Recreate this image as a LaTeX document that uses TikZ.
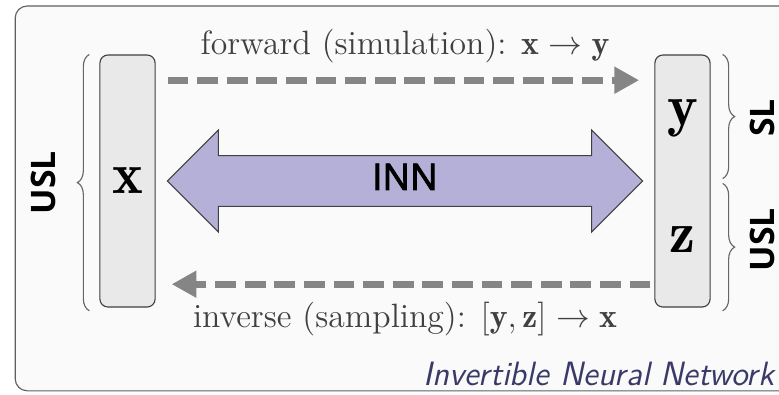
\documentclass[tikz,border=0pt]{standalone}
\usepackage{amsmath}
\usepackage{fontspec}
\usepackage{tikz}
\usetikzlibrary{arrows.meta,calc,positioning,shapes.arrows,decorations.pathreplacing}
\newfontfamily\labelsans{Open Sans}
\newfontfamily\innsans{Open Sans}[FakeBold=2.5]
\definecolor{INNFrame}{HTML}{5F5F5F}
\definecolor{INNBack}{HTML}{FAFAFA}
\definecolor{INNBox}{HTML}{E9E9E9}
\definecolor{INNLilac}{HTML}{B4B0D7}
\definecolor{INNGray}{HTML}{858585}
\definecolor{INNNavy}{HTML}{3A3A68}

\begin{document}
\begin{tikzpicture}[
    x=1cm,y=1cm,
    varbox/.style={draw=black!75,fill=INNBox,rounded corners=0.1cm,
      minimum width=0.69cm,minimum height=3.15cm,inner sep=0pt},
    var/.style={font=\huge},
    flow/.style={-{Triangle[length=0.31cm,width=0.32cm]},color=INNGray,
      line width=2.6pt,dash pattern=on 0.26cm off 0.11cm},
    flowlabel/.style={font=\large,text=black!75},
    innarrow/.style={double arrow,draw=black!75,fill=INNLilac,
      double arrow head extend=0.32cm,minimum height=5.94cm,
      text height=0.22cm,text depth=0pt,inner ysep=0.2cm,inner xsep=0pt,
      font=\innsans\fontsize{13}{15}\selectfont},
    grp/.style={decorate,decoration={brace,amplitude=0.15cm},draw=black!60,thin},
    grplabel/.style={rotate=90,inner sep=0pt,font=\labelsans\bfseries\large}
  ]
  \clip (0,0) rectangle (9.7375,4.925);
  \draw[draw=INNFrame,fill=INNBack,rounded corners=0.15cm]
    (0.19,0.04) rectangle (10.2,4.85);

  % variable columns
  \node[varbox] (x) at (1.594,2.6625) {};
  \node[varbox] (yz) at (8.531,2.6625) {};
  \node[var] (xv) at (x) {$\mathbf{x}$};
  \node[var] (yv) at (8.531,3.45) {$\mathbf{y}$};
  \node[var] (zv) at (8.531,1.925) {$\mathbf{z}$};

  \node[innarrow] (inn) at ($(x)!0.5!(yz)$) {INN};

  % forward and inverse passes
  \draw[flow,shorten <=0.15cm,shorten >=0.19cm] ([yshift=1.26cm]x.east) --
    node[flowlabel,above=0.05cm] (fwd)
      {forward (simulation): $\mathbf{x}\rightarrow\mathbf{y}$}
    ([yshift=1.26cm]yz.west);
  \draw[flow,shorten <=0.05cm,shorten >=0.2cm] ([yshift=-1.29cm]yz.west) --
    node[flowlabel,below=0.06cm] (inv)
      {inverse (sampling): $[\mathbf{y},\mathbf{z}]\rightarrow\mathbf{x}$}
    ([yshift=-1.29cm]x.east);

  % braces
  \draw[grp] ([xshift=-0.125cm,yshift=-0.04cm]x.south west) --
    ([xshift=-0.125cm]x.north west);
  \draw[grp] ([xshift=0.15cm]yz.north east) --
    ([xshift=0.15cm,yshift=0.03cm]yz.east);
  \draw[grp] ([xshift=0.15cm,yshift=-0.03cm]yz.east) --
    ([xshift=0.15cm,yshift=-0.04cm]yz.south east);
  \node[grplabel] (uslx) at (0.54,2.64) {USL};
  \node[grplabel] (sly) at (9.53,3.45) {SL};
  \node[grplabel] (uslz) at (9.53,1.93) {USL};

  \node[font=\sffamily\itshape\large,text=INNNavy,anchor=east] (title)
    at (9.80,0.25) {Invertible Neural Network};
\end{tikzpicture}
\end{document}
